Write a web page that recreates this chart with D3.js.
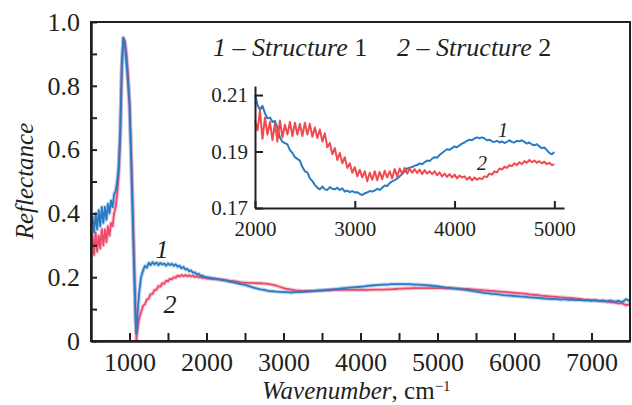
<!DOCTYPE html>
<html>
<head>
<meta charset="utf-8">
<script src="https://cdn.jsdelivr.net/npm/d3@7"></script>
<style>
  body { margin: 0; background: #fff; }
  svg text, svg tspan { font-family: 'Liberation Serif' !important; }
  .axis path, .axis line { stroke: #231f20; stroke-width: 2; }
  .axis text { fill: #231f20; }
</style>
</head>
<body>
<div id="chart"></div>
<script>
'use strict';

// main plot: wavenumber grid (cm^-1) and reflectance of both structures
const mainWavenumbers = [
    500, 520, 540, 560, 580, 600, 620, 640, 660, 680,
    700, 720, 740, 760, 780, 800, 820, 840, 860, 880,
    900, 920, 940, 960, 980, 1000, 1020, 1040, 1060, 1080,
    1090, 1100,
    1125, 1150, 1175, 1200, 1225, 1250, 1275, 1300, 1325, 1350,
    1375, 1400, 1425, 1450, 1475, 1500, 1525, 1550, 1575, 1600,
    1625, 1650, 1675, 1700, 1725, 1750, 1775, 1800, 1825, 1850,
    1875, 1900, 1925, 1950, 1975, 2000,
    2050, 2100, 2150, 2200, 2250, 2300, 2350, 2400, 2450, 2500,
    2550, 2600, 2650, 2700, 2750, 2800, 2850, 2900, 2950, 3000,
    3050, 3100, 3150, 3200, 3250, 3300, 3350, 3400, 3450, 3500,
    3550, 3600, 3650, 3700, 3750, 3800, 3850, 3900, 3950, 4000,
    4050, 4100, 4150, 4200, 4250, 4300, 4350, 4400, 4450, 4500,
    4550, 4600, 4650, 4700, 4750, 4800, 4850, 4900, 4950, 5000,
    5050, 5100, 5150, 5200, 5250, 5300, 5350, 5400, 5450, 5500,
    5550, 5600, 5650, 5700, 5750, 5800, 5850, 5900, 5950, 6000,
    6050, 6100, 6150, 6200, 6250, 6300, 6350, 6400, 6450, 6500,
    6550, 6600, 6650, 6700, 6750, 6800, 6850, 6900, 6950, 7000,
    7050, 7100, 7150, 7200, 7250, 7300, 7350, 7400, 7450, 7500
];

const structure1 = [
    0.36, 0.39, 0.34, 0.40, 0.35, 0.41, 0.36, 0.42, 0.37, 0.42,
    0.38, 0.43, 0.40, 0.44, 0.42, 0.46, 0.47, 0.50, 0.55, 0.66,
    0.86, 0.95, 0.93, 0.87, 0.81, 0.74, 0.58, 0.40, 0.22, 0.06,
    0.025, 0.07,
    0.15, 0.20, 0.22, 0.235, 0.23, 0.245, 0.238, 0.247, 0.24, 0.246,
    0.238, 0.245, 0.24, 0.243, 0.236, 0.243, 0.238, 0.242, 0.236, 0.24,
    0.233, 0.236, 0.228, 0.232, 0.224, 0.226, 0.219, 0.221, 0.214, 0.215,
    0.209, 0.21, 0.204, 0.205, 0.2, 0.2,
    0.198, 0.196, 0.194, 0.191, 0.189, 0.186, 0.184, 0.181, 0.178, 0.176,
    0.172, 0.168, 0.165, 0.162, 0.160, 0.157, 0.156, 0.155, 0.154, 0.153,
    0.153, 0.152, 0.153, 0.153, 0.154, 0.155, 0.156, 0.157, 0.158, 0.159,
    0.160, 0.161, 0.162, 0.163, 0.165, 0.166, 0.167, 0.168, 0.169, 0.170,
    0.171, 0.173, 0.174, 0.175, 0.176, 0.177, 0.177, 0.178, 0.178, 0.178,
    0.178, 0.178, 0.178, 0.177, 0.177, 0.176, 0.175, 0.174, 0.173, 0.172,
    0.170, 0.168, 0.167, 0.165, 0.164, 0.162, 0.161, 0.159, 0.157, 0.155,
    0.153, 0.151, 0.150, 0.148, 0.147, 0.146, 0.144, 0.143, 0.142, 0.141,
    0.140, 0.139, 0.138, 0.137, 0.136, 0.135, 0.134, 0.133, 0.132, 0.132,
    0.131, 0.130, 0.131, 0.129, 0.130, 0.128, 0.129, 0.127, 0.128, 0.126,
    0.128, 0.125, 0.127, 0.124, 0.127, 0.123, 0.126, 0.122, 0.131, 0.125
];

const structure2 = [
    0.30, 0.33, 0.27, 0.34, 0.28, 0.33, 0.29, 0.35, 0.30, 0.35,
    0.31, 0.36, 0.33, 0.37, 0.36, 0.40, 0.42, 0.46, 0.52, 0.64,
    0.86, 0.95, 0.94, 0.90, 0.84, 0.75, 0.61, 0.44, 0.26, 0.08,
    0.0, 0.03,
    0.07, 0.09, 0.11, 0.115, 0.13, 0.133, 0.147, 0.148, 0.16, 0.16,
    0.172, 0.17, 0.181, 0.179, 0.189, 0.187, 0.195, 0.193, 0.2, 0.198,
    0.205, 0.202, 0.207, 0.203, 0.207, 0.203, 0.206, 0.202, 0.205, 0.2,
    0.203, 0.199, 0.201, 0.197, 0.2, 0.196,
    0.195, 0.194, 0.193, 0.193, 0.191, 0.189, 0.188, 0.186, 0.184, 0.183,
    0.182, 0.182, 0.181, 0.181, 0.180, 0.179, 0.177, 0.174, 0.170, 0.166,
    0.163, 0.161, 0.159, 0.158, 0.157, 0.157, 0.157, 0.157, 0.158, 0.158,
    0.159, 0.159, 0.160, 0.160, 0.160, 0.160, 0.160, 0.160, 0.160, 0.160,
    0.160, 0.160, 0.161, 0.161, 0.161, 0.161, 0.162, 0.162, 0.163, 0.164,
    0.164, 0.165, 0.165, 0.166, 0.166, 0.166, 0.166, 0.166, 0.166, 0.166,
    0.166, 0.165, 0.165, 0.165, 0.164, 0.164, 0.163, 0.163, 0.162, 0.161,
    0.160, 0.159, 0.158, 0.157, 0.156, 0.155, 0.154, 0.153, 0.152, 0.151,
    0.150, 0.149, 0.148, 0.146, 0.145, 0.144, 0.142, 0.141, 0.140, 0.139,
    0.138, 0.137, 0.136, 0.135, 0.134, 0.133, 0.132, 0.130, 0.129, 0.128,
    0.127, 0.126, 0.124, 0.124, 0.121, 0.121, 0.118, 0.118, 0.112, 0.116
];

// inset: 2000-5000 cm^-1 zoom
const insetWavenumbers = [
    2000, 2025, 2050, 2075, 2100, 2125, 2150, 2175, 2200, 2225,
    2250, 2275, 2300, 2325, 2350, 2375, 2400, 2425, 2450, 2475,
    2500, 2525, 2550, 2575, 2600, 2625, 2650, 2675, 2700, 2725,
    2750, 2775, 2800, 2825, 2850, 2875, 2900, 2925, 2950, 2975,
    3000, 3025, 3050, 3075, 3100, 3125, 3150, 3175, 3200, 3225,
    3250, 3275, 3300, 3325, 3350, 3375, 3400, 3425, 3450, 3475,
    3500, 3525, 3550, 3575, 3600, 3625, 3650, 3675, 3700, 3725,
    3750, 3775, 3800, 3825, 3850, 3875, 3900, 3925, 3950, 3975,
    4000, 4025, 4050, 4075, 4100, 4125, 4150, 4175, 4200, 4225,
    4250, 4275, 4300, 4325, 4350, 4375, 4400, 4425, 4450, 4475,
    4500, 4525, 4550, 4575, 4600, 4625, 4650, 4675, 4700, 4725,
    4750, 4775, 4800, 4825, 4850, 4875, 4900, 4925, 4950, 4975,
    5000
];

const insetStructure1 = [
    0.2100, 0.2065, 0.2048, 0.2062, 0.2035, 0.2018, 0.2020, 0.2005, 0.2008, 0.1985,
    0.1950, 0.1935, 0.1930, 0.1925, 0.1905, 0.1895, 0.1880, 0.1874, 0.1868, 0.1845,
    0.1830, 0.1826, 0.1805, 0.1795, 0.1782, 0.1772, 0.1766, 0.1776, 0.1766, 0.1764,
    0.1774, 0.1768, 0.1766, 0.1772, 0.1764, 0.1770, 0.1758, 0.1762, 0.1756, 0.1760,
    0.1755, 0.1756, 0.1750, 0.1746, 0.1752, 0.1755, 0.1760, 0.1758, 0.1762, 0.1768,
    0.1764, 0.1772, 0.1780, 0.1778, 0.1788, 0.1795, 0.1798, 0.1805, 0.1812, 0.1820,
    0.1830, 0.1840, 0.1843, 0.1845, 0.1850, 0.1852, 0.1858, 0.1855, 0.1862, 0.1868,
    0.1866, 0.1875, 0.1880, 0.1878, 0.1888, 0.1895, 0.1902, 0.1908, 0.1906, 0.1912,
    0.1918, 0.1915, 0.1922, 0.1928, 0.1932, 0.1938, 0.1942, 0.1940, 0.1946, 0.1950,
    0.1947, 0.1950, 0.1946, 0.1940, 0.1942, 0.1936, 0.1934, 0.1938, 0.1932, 0.1936,
    0.1930, 0.1934, 0.1940, 0.1934, 0.1932, 0.1938, 0.1936, 0.1940, 0.1934, 0.1928,
    0.1932, 0.1925, 0.1922, 0.1926, 0.1918, 0.1912, 0.1914, 0.1905, 0.1895, 0.1890,
    0.1898
];

const insetStructure2 = [
    0.2010, 0.1975, 0.2045, 0.1945, 0.2020, 0.1960, 0.2005, 0.1940, 0.2000, 0.1935,
    0.2010, 0.1950, 0.1995, 0.1960, 0.2005, 0.1955, 0.2002, 0.1960, 0.1998, 0.1955,
    0.2002, 0.1960, 0.1998, 0.1952, 0.1985, 0.1948, 0.1978, 0.1935, 0.1965, 0.1915,
    0.1930, 0.1890, 0.1912, 0.1870, 0.1895, 0.1858, 0.1880, 0.1842, 0.1858, 0.1825,
    0.1845, 0.1812, 0.1835, 0.1808, 0.1830, 0.1795, 0.1825, 0.1800, 0.1830, 0.1798,
    0.1828, 0.1802, 0.1832, 0.1808, 0.1830, 0.1805, 0.1838, 0.1812, 0.1840, 0.1820,
    0.1842, 0.1822, 0.1840, 0.1825, 0.1838, 0.1824, 0.1836, 0.1820, 0.1834, 0.1822,
    0.1830, 0.1820, 0.1830, 0.1816, 0.1826, 0.1812, 0.1822, 0.1810, 0.1820, 0.1808,
    0.1818, 0.1805, 0.1815, 0.1808, 0.1812, 0.1800, 0.1810, 0.1798, 0.1808, 0.1800,
    0.1806, 0.1802, 0.1812, 0.1810, 0.1822, 0.1818, 0.1830, 0.1826, 0.1840, 0.1836,
    0.1846, 0.1842, 0.1852, 0.1848, 0.1858, 0.1852, 0.1862, 0.1855, 0.1866, 0.1860,
    0.1870, 0.1862, 0.1868, 0.1860, 0.1866, 0.1858, 0.1864, 0.1855, 0.1860, 0.1852,
    0.1855
];

// ticks and their labels
const xMajorTicks = [1000, 2000, 3000, 4000, 5000, 6000, 7000];
const xLabels = ['1000', '2000', '3000', '4000', '5000', '6000', '7000'];
const xMinorTicks = [1500, 2500, 3500, 4500, 5500, 6500];
const yMajorTicks = [0, 0.2, 0.4, 0.6, 0.8, 1.0];
const yLabels = ['0', '0.2', '0.4', '0.6', '0.8', '1.0'];
const yMinorTicks = [0.1, 0.3, 0.5, 0.7, 0.9];
const insetXTicks = [2000, 3000, 4000, 5000];
const insetXLabels = ['2000', '3000', '4000', '5000'];
const insetYTicks = [0.17, 0.19, 0.21];
const insetYLabels = ['0.17', '0.19', '0.21'];

const width = 632, height = 405;
const frame = { left: 91, right: 630, top: 22, bottom: 341 };
const blue = '#2a7bc6', pink = '#ee4a6a', red = '#ef4a4f', ink = '#231f20';
const serif = "'Liberation Serif'";

const svg = d3.select('#chart').append('svg')
    .attr('width', width)
    .attr('height', height)
    .style('font-family', serif);

const x = d3.scaleLinear().domain([500, 7500]).range([frame.left, frame.right]);
const y = d3.scaleLinear().domain([0, 1]).range([frame.bottom, frame.top]);

svg.append('clipPath').attr('id', 'frame')
    .append('rect')
    .attr('x', frame.left).attr('y', frame.top - 2)
    .attr('width', frame.right - frame.left).attr('height', frame.bottom - frame.top + 2);

// main curves, red under blue, with a soft halo like the printed figure
const mainLine = d3.line()
    .x((d, i) => x(mainWavenumbers[i]))
    .y(d => y(d));

const curves = svg.append('g').attr('clip-path', 'url(#frame)');
[[structure2, pink], [structure1, blue]].forEach(([values, color]) => {
    curves.append('path')
        .attr('d', mainLine(values))
        .attr('fill', 'none')
        .attr('stroke', color)
        .attr('stroke-opacity', 0.3)
        .attr('stroke-width', 4)
        .attr('stroke-linejoin', 'round');
    curves.append('path')
        .attr('d', mainLine(values))
        .attr('fill', 'none')
        .attr('stroke', color)
        .attr('stroke-width', 1.8)
        .attr('stroke-linejoin', 'round');
});

// axes with inward ticks
svg.append('g').attr('class', 'axis')
    .attr('transform', `translate(0,${frame.bottom})`)
    .call(d3.axisBottom(x).tickValues(xMajorTicks)
        .tickFormat((d, i) => xLabels[i])
        .tickSizeInner(-8).tickSizeOuter(0).tickPadding(12));
svg.append('g').attr('class', 'axis')
    .attr('transform', `translate(0,${frame.bottom})`)
    .call(d3.axisBottom(x).tickValues(xMinorTicks).tickFormat('')
        .tickSizeInner(-8).tickSizeOuter(0));

svg.append('g').attr('class', 'axis')
    .attr('transform', `translate(${frame.left},0)`)
    .call(d3.axisLeft(y).tickValues(yMajorTicks)
        .tickFormat((d, i) => yLabels[i])
        .tickSizeInner(-6).tickSizeOuter(0).tickPadding(11));
svg.append('g').attr('class', 'axis')
    .attr('transform', `translate(${frame.left},0)`)
    .call(d3.axisLeft(y).tickValues(yMinorTicks).tickFormat('')
        .tickSizeInner(-6).tickSizeOuter(0));

svg.selectAll('.axis').attr('font-family', null);
svg.selectAll('.axis text').attr('font-size', 26);

svg.append('rect')
    .attr('x', frame.left).attr('y', frame.top)
    .attr('width', frame.right - frame.left).attr('height', frame.bottom - frame.top)
    .attr('fill', 'none')
    .attr('stroke', ink)
    .attr('stroke-width', 2);

// axis titles
svg.append('text')
    .attr('transform', 'translate(33,181) rotate(-90)')
    .attr('text-anchor', 'middle')
    .attr('font-size', 25)
    .attr('font-style', 'italic')
    .attr('fill', ink)
    .text('Reflectance');

const xTitle = svg.append('text')
    .attr('x', 262).attr('y', 399)
    .attr('font-size', 25)
    .attr('fill', ink);
xTitle.append('tspan').attr('font-style', 'italic').text('Wavenumber');
xTitle.append('tspan').text(', cm');
xTitle.append('tspan').attr('font-size', 15).attr('dy', -8).text('\u22121');

// legend
const legend = svg.append('text')
    .attr('x', 213).attr('y', 56)
    .attr('font-size', 26)
    .attr('fill', ink);
legend.append('tspan').attr('font-style', 'italic').text('1 \u2013 Structure');
legend.append('tspan').text(' 1');
legend.append('tspan').attr('x', 397).attr('font-style', 'italic').text('2 \u2013 Structure');
legend.append('tspan').text(' 2');

// curve labels
svg.append('text').attr('x', 162).attr('y', 258)
    .attr('text-anchor', 'middle').attr('font-size', 26)
    .attr('font-style', 'italic').attr('fill', ink).text('1');
svg.append('text').attr('x', 170).attr('y', 313)
    .attr('text-anchor', 'middle').attr('font-size', 26)
    .attr('font-style', 'italic').attr('fill', ink).text('2');

// inset
const ix = d3.scaleLinear().domain([2000, 5097]).range([255, 564]);
const iy = d3.scaleLinear().domain([0.17, 0.2132]).range([208, 86]);

const insetLine = d3.line()
    .x((d, i) => ix(insetWavenumbers[i]))
    .y(d => iy(d));

const inset = svg.append('g');
[[insetStructure1, blue], [insetStructure2, red]].forEach(([values, color]) => {
    inset.append('path')
        .attr('d', insetLine(values))
        .attr('fill', 'none')
        .attr('stroke', color)
        .attr('stroke-width', 2)
        .attr('stroke-linejoin', 'round');
});

inset.append('g').attr('class', 'axis inset-axis')
    .attr('transform', 'translate(0,208)')
    .call(d3.axisBottom(ix).tickValues(insetXTicks)
        .tickFormat((d, i) => insetXLabels[i])
        .tickSizeInner(-7).tickSizeOuter(0).tickPadding(13));
inset.append('g').attr('class', 'axis inset-axis')
    .attr('transform', 'translate(255,0)')
    .call(d3.axisLeft(iy).tickValues(insetYTicks)
        .tickFormat((d, i) => insetYLabels[i])
        .tickSizeInner(-8).tickSizeOuter(0).tickPadding(7));

inset.selectAll('.inset-axis').attr('font-family', null);
inset.selectAll('.inset-axis text').attr('font-size', 21);

inset.append('text').attr('x', 503).attr('y', 137)
    .attr('text-anchor', 'middle').attr('font-size', 20)
    .attr('font-style', 'italic').attr('fill', ink).text('1');
inset.append('text').attr('x', 482).attr('y', 170)
    .attr('text-anchor', 'middle').attr('font-size', 20)
    .attr('font-style', 'italic').attr('fill', ink).text('2');

// inline style as well, so the serif face wins over any default text styling
svg.selectAll('text, tspan').style('font-family', serif);
</script>
</body>
</html>
